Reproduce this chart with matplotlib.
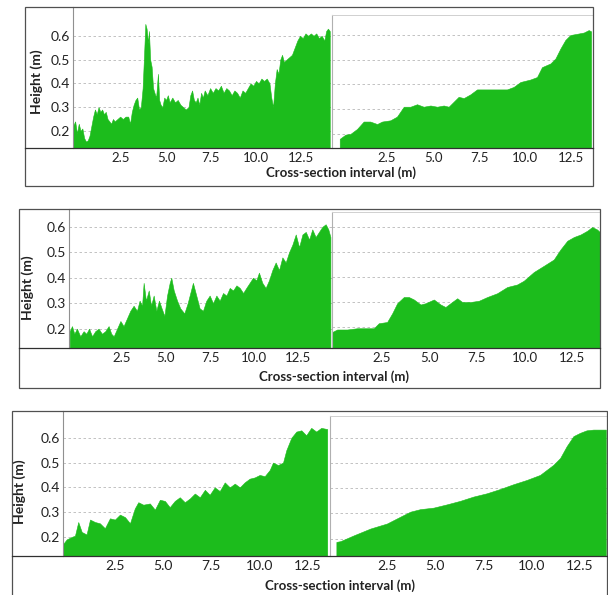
import matplotlib
matplotlib.use("Agg")
import matplotlib.pyplot as plt
from matplotlib.patches import Rectangle
from matplotlib.lines import Line2D

plt.rcParams['font.family'] = ['Lato', 'DejaVu Sans']

W, H = 608, 595
GREEN = '#1cbc1c'
INK = '#222222'

# ---- data (x: cross-section interval m, y: height m) ----
r1_left_x = [-0.17, -0.05, 0.05, 0.15, 0.25, 0.35, 0.45, 0.55, 0.65, 0.75, 0.85, 0.95, 1.05, 1.15,
             1.25, 1.35, 1.45, 1.55, 1.65, 1.75, 1.85, 1.95, 2.05, 2.15, 2.3, 2.45, 2.6, 2.75, 2.9,
             3.0, 3.1, 3.2, 3.3, 3.4, 3.5, 3.6, 3.7, 3.78, 3.85, 3.92, 4.0, 4.05, 4.12, 4.2, 4.28,
             4.36, 4.45, 4.55, 4.62, 4.7, 4.8, 4.9, 5.0, 5.1, 5.2, 5.35, 5.5, 5.65, 5.8, 5.95, 6.1,
             6.25, 6.35, 6.45, 6.55, 6.65, 6.75, 6.85, 6.95, 7.05, 7.15, 7.3, 7.45, 7.6, 7.75, 7.9,
             8.05, 8.2, 8.35, 8.5, 8.65, 8.8, 8.95, 9.1, 9.25, 9.4, 9.55, 9.7, 9.85, 10.0, 10.15,
             10.3, 10.45, 10.6, 10.75, 10.85, 10.95, 11.05, 11.15, 11.25, 11.35, 11.45, 11.55, 11.7,
             11.85, 12.0, 12.15, 12.3, 12.45, 12.6, 12.75, 12.9, 13.05, 13.2, 13.35, 13.5, 13.65,
             13.8, 13.9, 14.0, 14.1]
r1_left_y = [0.22, 0.24, 0.19, 0.23, 0.20, 0.21, 0.17, 0.155, 0.16, 0.18, 0.22, 0.26, 0.29, 0.27,
             0.30, 0.28, 0.29, 0.27, 0.28, 0.25, 0.24, 0.23, 0.25, 0.24, 0.25, 0.26, 0.25, 0.26, 0.26,
             0.23, 0.28, 0.31, 0.33, 0.34, 0.29, 0.30, 0.38, 0.52, 0.65, 0.63, 0.57, 0.62, 0.50, 0.47,
             0.38, 0.36, 0.34, 0.44, 0.33, 0.31, 0.30, 0.34, 0.33, 0.35, 0.32, 0.34, 0.32, 0.33, 0.31,
             0.30, 0.29, 0.30, 0.35, 0.37, 0.33, 0.32, 0.34, 0.31, 0.36, 0.34, 0.37, 0.35, 0.38, 0.36,
             0.38, 0.37, 0.39, 0.36, 0.38, 0.37, 0.35, 0.37, 0.36, 0.34, 0.37, 0.36, 0.38, 0.40, 0.39,
             0.41, 0.40, 0.42, 0.41, 0.42, 0.40, 0.34, 0.30, 0.40, 0.46, 0.44, 0.50, 0.52, 0.49, 0.50,
             0.51, 0.52, 0.55, 0.58, 0.60, 0.59, 0.61, 0.60, 0.61, 0.60, 0.61, 0.59, 0.60, 0.58, 0.62,
             0.63, 0.62]

r1_right_x = [-0.07, 0.24, 0.51, 0.87, 1.23, 1.59, 1.96, 2.23, 2.68, 3.04, 3.41, 3.77, 4.13, 4.49,
              4.86, 5.22, 5.58, 5.85, 6.12, 6.39, 6.67, 7.03, 7.39, 7.93, 8.48, 9.02, 9.38, 9.75,
              10.29, 10.65, 10.92, 11.38, 11.65, 11.92, 12.19, 12.46, 12.83, 13.19, 13.46, 13.59]
r1_right_y = [0.18, 0.197, 0.20, 0.22, 0.25, 0.25, 0.24, 0.25, 0.255, 0.27, 0.31, 0.31, 0.32, 0.31,
              0.315, 0.31, 0.315, 0.31, 0.33, 0.35, 0.345, 0.36, 0.38, 0.38, 0.38, 0.38, 0.39, 0.41,
              0.42, 0.43, 0.47, 0.485, 0.505, 0.545, 0.58, 0.60, 0.605, 0.61, 0.62, 0.615]

r2_left_x = [-0.47, -0.34, -0.21, -0.06, 0.13, 0.32, 0.47, 0.63, 0.8, 0.98, 1.17, 1.36, 1.55, 1.74,
             1.89, 2.03, 2.22, 2.41, 2.59, 2.78, 2.97, 3.16, 3.35, 3.5, 3.64, 3.73, 3.86, 4.02, 4.15,
             4.3, 4.45, 4.6, 4.75, 4.91, 5.06, 5.21, 5.3, 5.44, 5.63, 5.81, 6.04, 6.23, 6.38, 6.53,
             6.72, 6.91, 7.1, 7.29, 7.48, 7.67, 7.86, 8.05, 8.24, 8.43, 8.62, 8.81, 9.0, 9.19, 9.38,
             9.56, 9.75, 9.94, 10.13, 10.28, 10.47, 10.66, 10.85, 11.04, 11.23, 11.42, 11.61, 11.8,
             11.99, 12.18, 12.37, 12.56, 12.75, 12.94, 13.13, 13.31, 13.5, 13.69, 13.88, 14.07,
             14.22, 14.34]
r2_left_y = [0.19, 0.21, 0.18, 0.20, 0.17, 0.19, 0.18, 0.20, 0.17, 0.19, 0.20, 0.18, 0.19, 0.21,
             0.18, 0.17, 0.20, 0.23, 0.21, 0.24, 0.27, 0.29, 0.27, 0.31, 0.29, 0.38, 0.31, 0.35, 0.29,
             0.33, 0.27, 0.31, 0.28, 0.25, 0.33, 0.38, 0.40, 0.35, 0.31, 0.28, 0.26, 0.30, 0.34, 0.38,
             0.33, 0.28, 0.27, 0.31, 0.33, 0.30, 0.33, 0.31, 0.34, 0.33, 0.36, 0.35, 0.37, 0.36, 0.34,
             0.36, 0.38, 0.40, 0.39, 0.42, 0.38, 0.36, 0.39, 0.43, 0.46, 0.43, 0.48, 0.46, 0.50, 0.53,
             0.57, 0.52, 0.57, 0.58, 0.55, 0.59, 0.56, 0.58, 0.60, 0.61, 0.59, 0.56]

r2_right_x = [-0.12, 0.14, 0.67, 1.19, 1.72, 2.07, 2.33, 2.77, 3.04, 3.3, 3.65, 3.91, 4.18, 4.53,
              4.79, 5.23, 5.58, 5.84, 6.19, 6.46, 6.72, 7.16, 7.6, 8.04, 8.56, 9.09, 9.61, 9.96,
              10.49, 11.02, 11.54, 11.89, 12.25, 12.6, 12.95, 13.3, 13.56, 13.82, 13.96]
r2_right_y = [0.18, 0.19, 0.19, 0.195, 0.195, 0.195, 0.215, 0.22, 0.255, 0.295, 0.32, 0.32, 0.31,
              0.29, 0.295, 0.31, 0.29, 0.28, 0.30, 0.315, 0.30, 0.30, 0.305, 0.32, 0.335, 0.36, 0.37,
              0.385, 0.42, 0.445, 0.47, 0.51, 0.545, 0.56, 0.57, 0.585, 0.60, 0.59, 0.58]

r3_left_x = [-0.17, 0.0, 0.26, 0.43, 0.6, 0.78, 1.03, 1.21, 1.47, 1.72, 1.98, 2.24, 2.5, 2.76, 3.02,
             3.28, 3.53, 3.71, 3.97, 4.31, 4.57, 4.83, 5.09, 5.34, 5.6, 5.86, 6.12, 6.38, 6.64, 6.9,
             7.16, 7.41, 7.67, 7.93, 8.19, 8.45, 8.71, 8.97, 9.22, 9.48, 9.74, 10.0, 10.26, 10.52,
             10.69, 10.95, 11.21, 11.38, 11.64, 11.9, 12.16, 12.41, 12.67, 12.93, 13.19, 13.5]
r3_left_y = [0.173, 0.19, 0.20, 0.205, 0.26, 0.22, 0.21, 0.27, 0.26, 0.255, 0.235, 0.275, 0.27,
             0.29, 0.28, 0.255, 0.315, 0.34, 0.33, 0.335, 0.31, 0.35, 0.345, 0.32, 0.345, 0.36, 0.34,
             0.355, 0.375, 0.36, 0.39, 0.37, 0.40, 0.385, 0.42, 0.40, 0.415, 0.40, 0.42, 0.435, 0.44,
             0.45, 0.445, 0.47, 0.50, 0.49, 0.50, 0.55, 0.60, 0.625, 0.63, 0.61, 0.64, 0.625, 0.64,
             0.635]

r3_right_x = [-0.12, 0.09, 0.78, 1.64, 2.5, 3.19, 3.71, 4.22, 4.91, 5.6, 6.29, 6.98, 7.67, 8.36,
              9.05, 9.74, 10.43, 11.12, 11.47, 11.81, 12.16, 12.5, 12.84, 13.19, 13.84]
r3_right_y = [0.187, 0.19, 0.213, 0.24, 0.26, 0.287, 0.307, 0.317, 0.323, 0.336, 0.35, 0.367, 0.38,
              0.397, 0.416, 0.433, 0.453, 0.493, 0.52, 0.567, 0.607, 0.62, 0.63, 0.633, 0.633]

x_ticks = [2.5, 5.0, 7.5, 10.0, 12.5]
y_ticks = [0.2, 0.3, 0.4, 0.5, 0.6]


def px(x0, y0, x1, y1):
    return [x0 / W, 1 - y1 / H, (x1 - x0) / W, (y1 - y0) / H]


def panel(fig, rect, xs, ys, xlim, ylim, left, xfs):
    ax = fig.add_axes(px(*rect))
    ax.fill_between(xs, ylim[0], ys, color=GREEN, lw=0.4, edgecolor=GREEN)
    ax.set_xlim(*xlim)
    ax.set_ylim(*ylim)
    for y in y_ticks:
        ax.axhline(y, color='#b8b8b8', lw=0.6, ls=(0, (3, 3)), zorder=0)
    ax.set_xticks(x_ticks)
    ax.set_xticklabels([f'{t:.1f}' for t in x_ticks], fontsize=xfs, color=INK)
    ax.tick_params(axis='x', length=0, pad=3)
    if left:
        ax.set_yticks(y_ticks)
        ax.set_yticklabels([f'{t:.1f}' for t in y_ticks], fontsize=10, color=INK)
        ax.tick_params(axis='y', length=0, pad=2)
        ax.spines['left'].set_color('#909090')
    else:
        ax.set_yticks([])
        ax.spines['left'].set_color('#b0b0b0')
    ax.spines['top'].set_color('#d0d0d0')
    ax.spines['top'].set_linewidth(0.7)
    ax.spines['left'].set_linewidth(0.8)
    ax.spines['right'].set_visible(False)
    ax.spines['bottom'].set_visible(False)
    ax.patch.set_alpha(0)
    return ax


rows = [
    dict(box=(25, 7, 593, 186), base=148,
         left=((73, 7, 331, 148), r1_left_x, r1_left_y, (-0.17, 14.17), (0.128, 0.721)),
         right=((332, 15, 592, 148), r1_right_x, r1_right_y, (-0.49, 13.64), (0.143, 0.681)),
         ylab=(37, 82), xlab=(341, 173), xfs=9.5),
    dict(box=(19, 209, 600, 388), base=348,
         left=((69, 209, 332, 348), r2_left_x, r2_left_y, (-0.51, 14.43), (0.124, 0.67)),
         right=((332, 212, 599, 348), r2_right_x, r2_right_y, (-0.13, 13.92), (0.116, 0.66)),
         ylab=(28, 288), xlab=(334, 377), xfs=9.5),
    dict(box=(12, 411, 607, 620), base=556,
         left=((63, 411, 328, 556), r3_left_x, r3_left_y, (-0.19, 13.54), (0.123, 0.708)),
         right=((330, 416, 607, 556), r3_right_x, r3_right_y, (-0.45, 13.9), (0.131, 0.687)),
         ylab=(20, 492), xlab=(340, 586), xfs=10),
]

fig = plt.figure(figsize=(W / 100, H / 100), dpi=100)

for r in rows:
    x0, y0, x1, y1 = r['box']
    fig.patches.append(Rectangle((x0 / W, 1 - y1 / H), (x1 - x0) / W, (y1 - y0) / H,
                                 transform=fig.transFigure, fill=False,
                                 edgecolor='#505050', lw=0.9))
    fig.lines.append(Line2D([x0 / W, x1 / W], [1 - r['base'] / H] * 2,
                            transform=fig.transFigure, color='#303030', lw=0.9))
    panel(fig, *r['left'], True, r['xfs'])
    panel(fig, *r['right'], False, r['xfs'])
    fig.text(r['ylab'][0] / W, 1 - r['ylab'][1] / H, 'Height (m)', rotation=90,
             ha='center', va='center', fontsize=10, fontweight='bold', color=INK)
    fig.text(r['xlab'][0] / W, 1 - r['xlab'][1] / H, 'Cross-section interval (m)',
             ha='center', va='center', fontsize=9.5, fontweight='bold', color=INK)

fig.savefig('out.png', dpi=100)
